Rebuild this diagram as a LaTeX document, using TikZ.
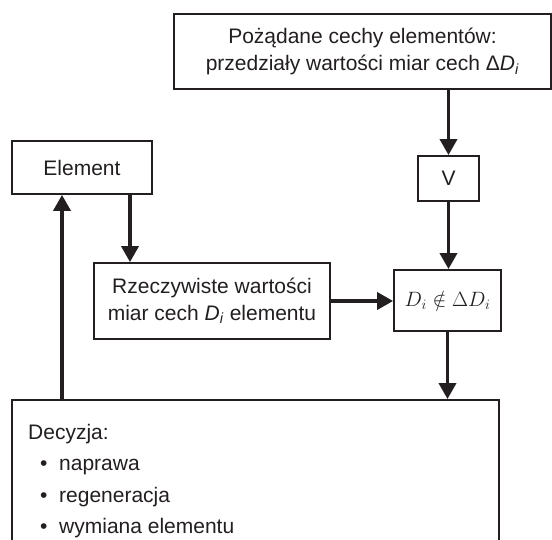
\documentclass[tikz,border=0pt]{standalone}
\usepackage{fontspec}
\setmainfont{Liberation Sans}
\usetikzlibrary{arrows.meta}
\definecolor{ink}{HTML}{231F20}
\begin{document}
\begin{tikzpicture}[x=1pt,y=-1pt,
  box/.style={draw=ink,line width=1.8pt,rectangle,inner sep=0pt,text=ink,align=center,
    font=\fontsize{21}{29}\selectfont},
  flow/.style={draw=ink,line width=3.5pt,-{Triangle[width=17pt,length=16pt]}},
  txt/.style={text=ink,inner sep=0pt,anchor=base west,font=\fontsize{21}{29}\selectfont}]
\clip (0,0) rectangle (552,539);
\fill[white] (0,0) rectangle (552,539);
% boxes
\node[box,minimum width=377pt,minimum height=75pt] (top) at (362.5,51.5)
  {Pożądane cechy elementów:\\[-2pt] przedziały wartości miar cech Δ\textit{D}\textsubscript{\textit{i}}};
\node[box,minimum width=61pt,minimum height=45pt] (V) at (448.5,178.5) {V};
\node[box,minimum width=107pt,minimum height=61pt] (D) at (447.5,300.5)
  {$D_i \notin \Delta D_i$};
\node[box,minimum width=140pt,minimum height=53pt] (el) at (82,167.5) {Element};
\node[box,minimum width=236pt,minimum height=76pt] (R) at (212,301)
  {Rzeczywiste wartości\\[-2pt] miar cech \textit{D}\textsubscript{\textit{i}} elementu};
\node[box,minimum width=487pt,minimum height=200pt] (bot) at (255.5,500) {};
% decision text
\node[txt] (d0) at (28,439) {Decyzja:};
\node[txt] (b1) at (40,470) {•};
\node[txt] (d1) at (59,470) {naprawa};
\node[txt] (b2) at (40,502) {•};
\node[txt] (d2) at (59,502) {regeneracja};
\node[txt] (b3) at (40,533) {•};
\node[txt] (d3) at (59,533) {wymiana elementu};
% connectors
\draw[flow] (V.north |- top.south) -- (V.north);
\draw[flow] (V.south) -- (V.south |- D.north);
\draw[flow] ([xshift=48pt]el.south) -- ([xshift=48pt]el.south |- R.north);
\draw[flow] (R.east) -- (R.east -| D.west);
\draw[flow] (D.south) -- (D.south |- bot.north);
\draw[flow] ([xshift=-20pt]el.south |- bot.north) -- ([xshift=-20pt]el.south);
\end{tikzpicture}
\end{document}
